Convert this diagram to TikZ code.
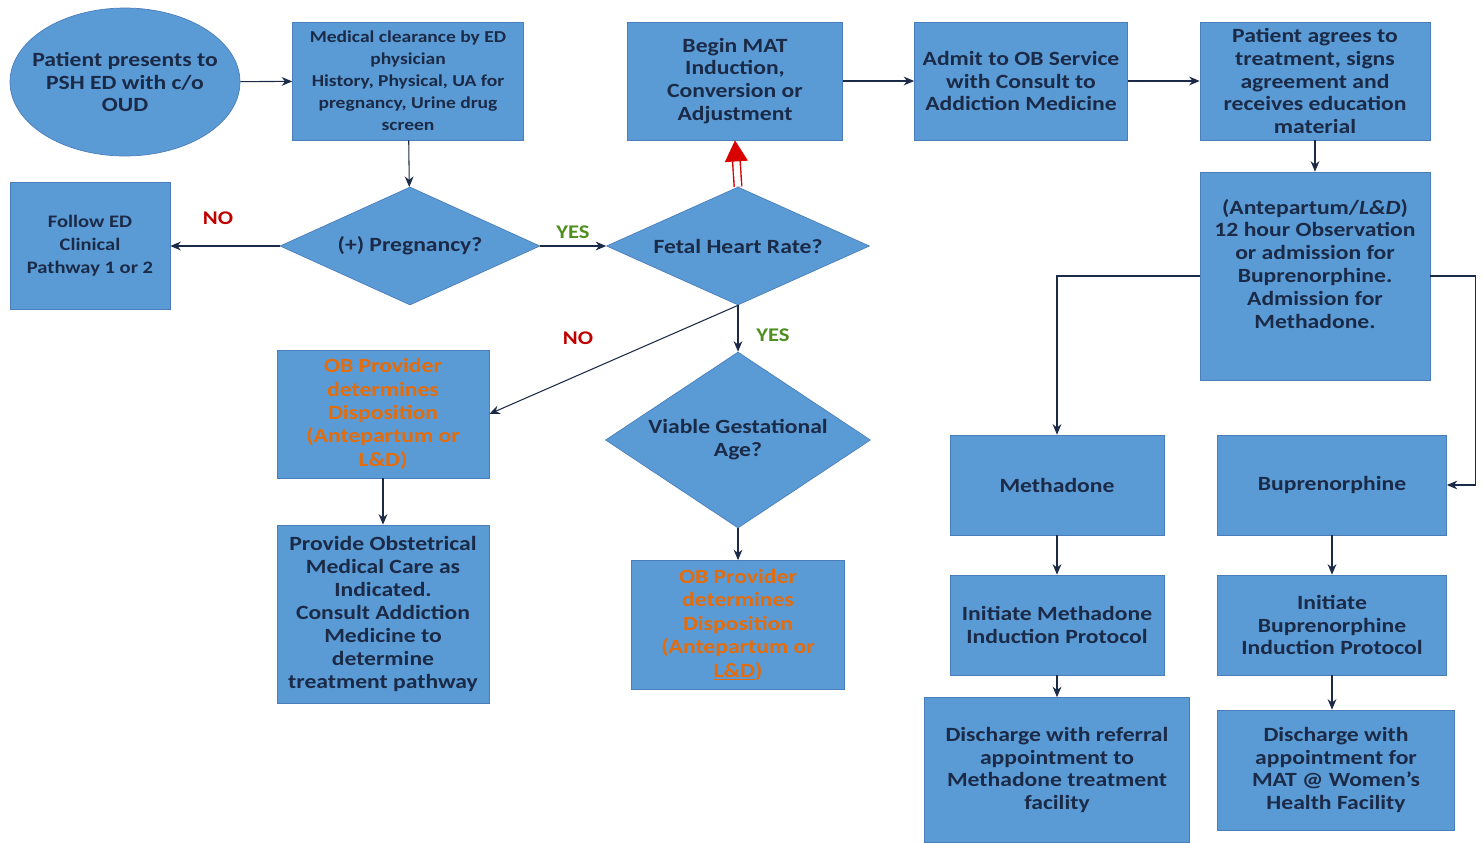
\documentclass[tikz,border=0pt]{standalone}
\usepackage{fontspec}
\setmainfont{Carlito}[FakeStretch=1.17]
\usetikzlibrary{shapes,arrows.meta}

\definecolor{boxblue}{HTML}{5B9BD5}
\definecolor{boxline}{HTML}{4A7EBB}
\definecolor{navy}{HTML}{1B2A47}
\definecolor{provorange}{HTML}{E46C0A}
\definecolor{nored}{HTML}{C00000}
\definecolor{yesgreen}{HTML}{4E8F1F}

\begin{document}
\begin{tikzpicture}[x=0.02cm,y=-0.02cm,
		box/.style={rectangle,draw=boxline,fill=boxblue,text=navy,align=center,inner sep=2pt,
			font=\bfseries\fontsize{11.5}{13}\selectfont},
		decision/.style={diamond,draw=boxline,fill=boxblue,text=navy,align=center,inner sep=0pt,
			font=\bfseries\fontsize{11.5}{13}\selectfont},
		provider/.style={box,text=provorange,font=\bfseries\fontsize{11.5}{13.3}\selectfont},
		link/.style={draw=navy,line width=0.6pt,-{Stealth[length=6pt,width=5pt]}},
		nolabel/.style={text=nored,font=\bfseries\fontsize{11}{13}\selectfont},
		yeslabel/.style={text=yesgreen,font=\bfseries\fontsize{11}{13}\selectfont}]
		
			\useasboundingbox (0,0) rectangle (1483,842);
			
			% top row
			\node[ellipse,draw=boxline,fill=boxblue,text=navy,align=center,inner xsep=-8pt,inner ysep=0pt,
				minimum width=4.6cm,minimum height=2.96cm,font=\bfseries\fontsize{11.5}{13}\selectfont]
				(start) at (125,82) {Patient presents to\\PSH ED with c/o\\OUD};
			\node[box,minimum width=4.62cm,minimum height=2.36cm,font=\bfseries\fontsize{9.5}{12.5}\selectfont]
				(clear) at (408,81) {Medical clearance by ED\\physician\\History, Physical, UA for\\pregnancy, Urine drug\\screen};
			\node[box,minimum width=4.3cm,minimum height=2.36cm] (mat) at (735,81) {Begin MAT\\Induction,\\Conversion or\\Adjustment};
			\node[box,minimum width=4.26cm,minimum height=2.36cm] (admit) at (1021,81) {Admit to OB Service\\with Consult to\\Addiction Medicine};
			\node[box,minimum width=4.6cm,minimum height=2.36cm] (agree) at (1315,81) {Patient agrees to\\treatment, signs\\agreement and\\receives education\\material};
			
			% decisions
			\node[box,minimum width=3.2cm,minimum height=2.54cm,font=\bfseries\fontsize{10}{13}\selectfont]
				(follow) at (90,246) {Follow ED\\Clinical\\Pathway 1 or 2};
			\node[decision,aspect=2.2,minimum width=5.2cm,minimum height=2.36cm] (preg) at (410,246) {(+) Pregnancy?};
			\node[decision,aspect=2.2,minimum width=5.26cm,minimum height=2.36cm] (fetal) at (738,246) {Fetal Heart Rate?};
			\node[box,minimum width=4.6cm,minimum height=4.16cm] (antep) at (1315,276)
				{(Antepartum/\textit{L\&D})\\12 hour Observation\\or admission for\\Buprenorphine.\\Admission for\\Methadone.\\[1pt]};
			
			% left branch
			\node[provider,minimum width=4.24cm,minimum height=2.56cm] (obdisp) at (383,414)
				{OB Provider\\determines\\Disposition\\(Antepartum or\\L\&D)};
			\node[box,minimum width=4.24cm,minimum height=3.56cm] (care) at (383,614)
				{Provide Obstetrical\\Medical Care as\\Indicated.\\Consult Addiction\\Medicine to\\determine\\treatment pathway};
			\node[decision,aspect=1.5,minimum width=5.3cm,minimum height=3.52cm] (viable) at (738,440) {Viable Gestational\\Age?};
			\node[provider,minimum width=4.26cm,minimum height=2.58cm] (obdisp2) at (738,625)
				{OB Provider\\determines\\Disposition\\(Antepartum or\\\underline{L\&D})};
			
			% right branch
			\node[box,minimum width=4.28cm,minimum height=2cm] (meth) at (1057,485) {Methadone};
			\node[box,minimum width=4.58cm,minimum height=2cm] (bup) at (1332,485) {Buprenorphine};
			\node[box,minimum width=4.28cm,minimum height=2cm] (methinit) at (1057,625) {Initiate Methadone\\Induction Protocol};
			\node[box,minimum width=4.58cm,minimum height=2cm] (bupinit) at (1332,625) {Initiate\\Buprenorphine\\Induction Protocol};
			\node[box,minimum width=5.3cm,minimum height=2.9cm] (methout) at (1057,770)
				{Discharge with referral\\appointment to\\Methadone treatment\\facility};
			\node[box,minimum width=4.74cm,minimum height=2.4cm] (bupout) at (1336,770)
				{Discharge with\\appointment for\\MAT @ Women's\\Health Facility};
			
			\path[link] (start) -- (clear);
			\path[link] (clear) -- (preg);
			\path[link] (preg.west) -- (follow);
			\path[link] (preg.east) -- (fetal.west);
			\path[link] (mat) -- (admit);
			\path[link] (admit) -- (agree);
			\path[link] (agree) -- (antep);
			\path[link] (fetal.south) -- (obdisp.east);
			\path[link] (fetal.south) -- (viable.north);
			\path[link] (obdisp) -- (care);
			\path[link] (viable.south) -- (obdisp2);
			\path[link] (antep.west) -| (meth.north);
			\path[link] (antep.east) -- ++(45,0) |- (bup.east);
			\path[link] (meth) -- (methinit);
			\path[link] (methinit) -- (methout);
			\path[link] (bupinit.south) -- (bupinit.south |- bupout.north);
			\path[link] (bup) -- (bupinit);
			\draw[draw=red!85!black,double=white,double distance=3.5pt,line width=0.8pt,
				-{Triangle[length=12pt,width=13pt,fill=red!85!black]}] (fetal.north) -- (mat.south);
			
			\node[nolabel] (no1) at (218,218) {NO};
			\node[yeslabel] (yes1) at (573,232) {YES};
			\node[nolabel] (no2) at (578,338) {NO};
			\node[yeslabel] (yes2) at (773,335) {YES};
		
		\end{tikzpicture}
\end{document}
